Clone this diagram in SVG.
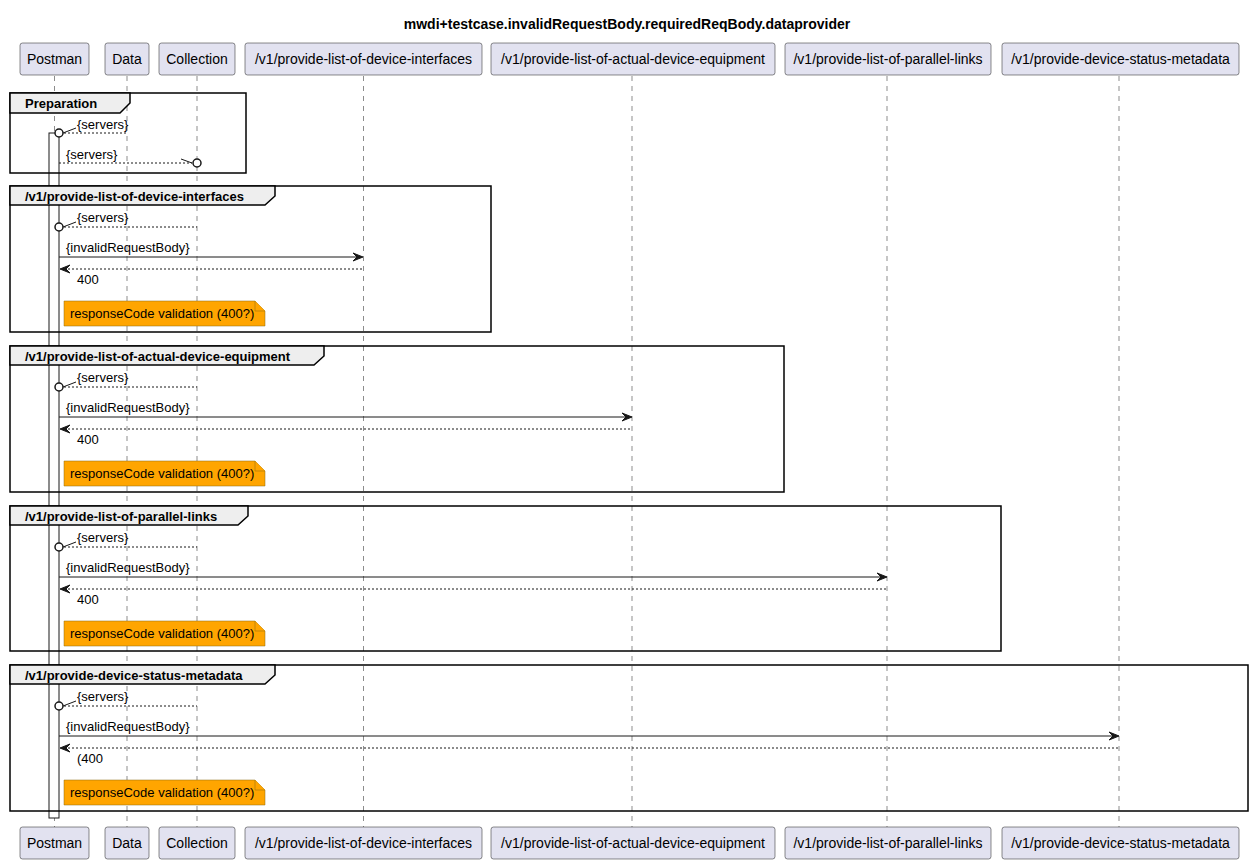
<svg xmlns="http://www.w3.org/2000/svg" width="1253" height="863" viewBox="0 0 1253 863">
<style>
text{font-family:"Liberation Sans",Arial,sans-serif;fill:#000}
.title{font-size:14px;font-weight:bold}
.pbox{fill:#E2E2F0;stroke:#181818;stroke-width:0.5}
.ptxt{font-size:14px;text-anchor:middle}
.life{stroke:#181818;stroke-width:0.5;stroke-dasharray:5,5}
.frame{fill:none;stroke:#000;stroke-width:1.5}
.tab{fill:#EEEEEE;stroke:#000;stroke-width:1.5}
.ftxt{font-size:13px;font-weight:bold}
.msg{font-size:13px}
.sol{stroke:#181818;stroke-width:1;fill:none}
.dsh{stroke:#181818;stroke-width:1;fill:none;stroke-dasharray:2,2}
.head{fill:#181818;stroke:#181818;stroke-width:1}
.circ{fill:#fff;stroke:#181818;stroke-width:1.5}
.note{fill:#FFA500;stroke:#8A6A10;stroke-width:0.5}
.ntxt{font-size:13px}
.act{fill:#fff;stroke:#181818;stroke-width:1}
</style>
<rect width="1253" height="863" fill="#fff"/>
<text class="title" x="627" y="29" text-anchor="middle">mwdi+testcase.invalidRequestBody.requiredReqBody.dataprovider</text>

<g id="lifelines">
<line class="life" x1="54.5" y1="76" x2="54.5" y2="827"/>
<line class="life" x1="127" y1="76" x2="127" y2="827"/>
<line class="life" x1="197" y1="76" x2="197" y2="827"/>
<line class="life" x1="363.5" y1="76" x2="363.5" y2="827"/>
<line class="life" x1="632" y1="76" x2="632" y2="827"/>
<line class="life" x1="887" y1="76" x2="887" y2="827"/>
<line class="life" x1="1119" y1="76" x2="1119" y2="827"/>
</g>

<g id="Postman">
<rect class="pbox" x="20" y="43" width="69" height="32" rx="2.5"/>
<text class="ptxt" x="54.5" y="64">Postman</text>
<rect class="pbox" x="20" y="827" width="69" height="32" rx="2.5"/>
<text class="ptxt" x="54.5" y="848">Postman</text>
</g>
<g id="Data">
<rect class="pbox" x="105" y="43" width="44" height="32" rx="2.5"/>
<text class="ptxt" x="127" y="64">Data</text>
<rect class="pbox" x="105" y="827" width="44" height="32" rx="2.5"/>
<text class="ptxt" x="127" y="848">Data</text>
</g>
<g id="Collection">
<rect class="pbox" x="159" y="43" width="76" height="32" rx="2.5"/>
<text class="ptxt" x="197" y="64">Collection</text>
<rect class="pbox" x="159" y="827" width="76" height="32" rx="2.5"/>
<text class="ptxt" x="197" y="848">Collection</text>
</g>
<g id="p_device_interfaces">
<rect class="pbox" x="245" y="43" width="237" height="32" rx="2.5"/>
<text class="ptxt" x="363.5" y="64">/v1/provide-list-of-device-interfaces</text>
<rect class="pbox" x="245" y="827" width="237" height="32" rx="2.5"/>
<text class="ptxt" x="363.5" y="848">/v1/provide-list-of-device-interfaces</text>
</g>
<g id="p_equipment">
<rect class="pbox" x="491" y="43" width="284" height="32" rx="2.5"/>
<text class="ptxt" x="633" y="64">/v1/provide-list-of-actual-device-equipment</text>
<rect class="pbox" x="491" y="827" width="284" height="32" rx="2.5"/>
<text class="ptxt" x="633" y="848">/v1/provide-list-of-actual-device-equipment</text>
</g>
<g id="p_parallel_links">
<rect class="pbox" x="785" y="43" width="206" height="32" rx="2.5"/>
<text class="ptxt" x="888" y="64">/v1/provide-list-of-parallel-links</text>
<rect class="pbox" x="785" y="827" width="206" height="32" rx="2.5"/>
<text class="ptxt" x="888" y="848">/v1/provide-list-of-parallel-links</text>
</g>
<g id="p_status_metadata">
<rect class="pbox" x="1002" y="43" width="237" height="32" rx="2.5"/>
<text class="ptxt" x="1120.5" y="64">/v1/provide-device-status-metadata</text>
<rect class="pbox" x="1002" y="827" width="237" height="32" rx="2.5"/>
<text class="ptxt" x="1120.5" y="848">/v1/provide-device-status-metadata</text>
</g>

<g id="activation">
<rect class="act" x="49" y="133" width="10" height="685"/>
</g>

<g id="frames">
<g id="frame_preparation">
<rect class="frame" x="10" y="93" width="236" height="80"/>
<path class="tab" d="M10,93 H130 V103 L120,113 H10 Z"/>
<text class="ftxt" x="25" y="108">Preparation</text>
</g>
<g id="frame_device_interfaces">
<rect class="frame" x="10" y="186" width="481" height="146"/>
<path class="tab" d="M10,186 H275 V196 L265,205 H10 Z"/>
<text class="ftxt" x="25" y="201">/v1/provide-list-of-device-interfaces</text>
</g>
<g id="frame_equipment">
<rect class="frame" x="10" y="346" width="774" height="146"/>
<path class="tab" d="M10,346 H324 V356 L314,365 H10 Z"/>
<text class="ftxt" x="25" y="361">/v1/provide-list-of-actual-device-equipment</text>
</g>
<g id="frame_parallel_links">
<rect class="frame" x="10" y="506" width="991" height="145"/>
<path class="tab" d="M10,506 H248 V516 L238,525 H10 Z"/>
<text class="ftxt" x="25" y="521">/v1/provide-list-of-parallel-links</text>
</g>
<g id="frame_status_metadata">
<rect class="frame" x="10" y="665" width="1238" height="146"/>
<path class="tab" d="M10,665 H275 V675 L265,684 H10 Z"/>
<text class="ftxt" x="25" y="680">/v1/provide-device-status-metadata</text>
</g>
</g>

<g id="connectors">
<!-- Preparation -->
<line class="dsh" x1="64" y1="133" x2="127" y2="133"/>
<line class="sol" x1="63" y1="133" x2="76" y2="128"/>
<circle class="circ" cx="59" cy="133" r="4"/>
<text class="msg" x="77" y="129">{servers}</text>
<line class="dsh" x1="59" y1="163" x2="192" y2="163"/>
<line class="sol" x1="181" y1="159" x2="192" y2="163"/>
<circle class="circ" cx="197" cy="163" r="4"/>
<text class="msg" x="66" y="159">{servers}</text>

<!-- device interfaces -->
<line class="dsh" x1="64" y1="227" x2="197" y2="227"/>
<line class="sol" x1="63" y1="227" x2="76" y2="222"/>
<circle class="circ" cx="59" cy="227" r="4"/>
<text class="msg" x="77" y="222">{servers}</text>
<line class="sol" x1="59" y1="257" x2="358" y2="257"/>
<polygon class="head" points="363,257 353,253 357,257 353,261"/>
<text class="msg" x="66" y="252">{invalidRequestBody}</text>
<line class="dsh" x1="64" y1="269" x2="363" y2="269"/>
<polygon class="head" points="60,269 70,265 66,269 70,273"/>
<text class="msg" x="77" y="284">400</text>

<!-- equipment -->
<line class="dsh" x1="64" y1="387" x2="197" y2="387"/>
<line class="sol" x1="63" y1="387" x2="76" y2="382"/>
<circle class="circ" cx="59" cy="387" r="4"/>
<text class="msg" x="77" y="382">{servers}</text>
<line class="sol" x1="59" y1="417" x2="627" y2="417"/>
<polygon class="head" points="632,417 622,413 626,417 622,421"/>
<text class="msg" x="66" y="412">{invalidRequestBody}</text>
<line class="dsh" x1="64" y1="429" x2="632" y2="429"/>
<polygon class="head" points="60,429 70,425 66,429 70,433"/>
<text class="msg" x="77" y="444">400</text>

<!-- parallel links -->
<line class="dsh" x1="64" y1="547" x2="197" y2="547"/>
<line class="sol" x1="63" y1="547" x2="76" y2="542"/>
<circle class="circ" cx="59" cy="547" r="4"/>
<text class="msg" x="77" y="542">{servers}</text>
<line class="sol" x1="59" y1="577" x2="882" y2="577"/>
<polygon class="head" points="887,577 877,573 881,577 877,581"/>
<text class="msg" x="66" y="572">{invalidRequestBody}</text>
<line class="dsh" x1="64" y1="589" x2="887" y2="589"/>
<polygon class="head" points="60,589 70,585 66,589 70,593"/>
<text class="msg" x="77" y="604">400</text>

<!-- status metadata -->
<line class="dsh" x1="64" y1="706" x2="197" y2="706"/>
<line class="sol" x1="63" y1="706" x2="76" y2="701"/>
<circle class="circ" cx="59" cy="706" r="4"/>
<text class="msg" x="77" y="701">{servers}</text>
<line class="sol" x1="59" y1="736" x2="1114" y2="736"/>
<polygon class="head" points="1119,736 1109,732 1113,736 1109,740"/>
<text class="msg" x="66" y="731">{invalidRequestBody}</text>
<line class="dsh" x1="64" y1="748" x2="1119" y2="748"/>
<polygon class="head" points="60,748 70,744 66,748 70,752"/>
<text class="msg" x="77" y="763">(400</text>
</g>

<g id="notes">
<g id="note1">
<path class="note" d="M64,301 H255 L265,311 V326 H64 Z"/>
<path class="note" d="M255,301 V311 H265"/>
<text class="ntxt" x="70" y="318">responseCode validation (400?)</text>
</g>
<g id="note2">
<path class="note" d="M64,461 H255 L265,471 V486 H64 Z"/>
<path class="note" d="M255,461 V471 H265"/>
<text class="ntxt" x="70" y="478">responseCode validation (400?)</text>
</g>
<g id="note3">
<path class="note" d="M64,621 H255 L265,631 V646 H64 Z"/>
<path class="note" d="M255,621 V631 H265"/>
<text class="ntxt" x="70" y="638">responseCode validation (400?)</text>
</g>
<g id="note4">
<path class="note" d="M64,780 H255 L265,790 V805 H64 Z"/>
<path class="note" d="M255,780 V790 H265"/>
<text class="ntxt" x="70" y="797">responseCode validation (400?)</text>
</g>
</g>
</svg>
